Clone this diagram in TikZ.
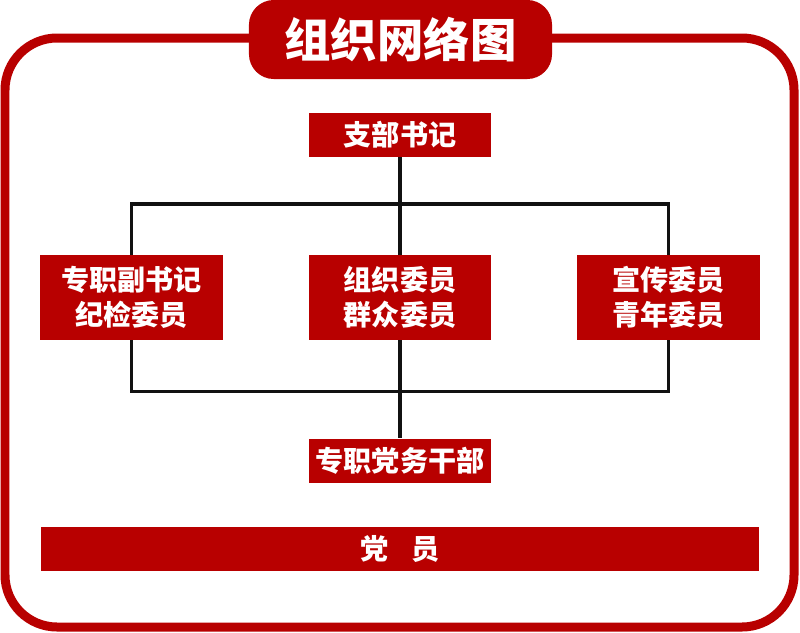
\documentclass[tikz,border=0pt]{standalone}
\usepackage{fontspec}
\setmainfont{Noto Sans CJK SC}
\usetikzlibrary{positioning,backgrounds}
\definecolor{PartyRed}{HTML}{B80000}
\definecolor{Ink}{HTML}{111111}

\begin{document}
\begin{tikzpicture}[x=0.025cm,y=-0.025cm,
  box/.style={rectangle,fill=PartyRed,text=white,inner sep=0pt,align=center,
    minimum width=4.55cm,font=\bfseries\fontsize{20}{25}\selectfont},
  onebox/.style={box,minimum height=1.1cm},
  twobox/.style={box,minimum height=2.125cm},
  link/.style={draw=Ink,line width=2.5pt}]
\useasboundingbox (0,0) rectangle (800,632);
% outer frame and title
\draw[PartyRed,line width=6.4pt,rounded corners=1.3cm] (5,38) rectangle (794,627);
\node[fill=PartyRed,text=white,rounded corners=0.62cm,minimum width=7.575cm,minimum height=1.975cm,
  font=\bfseries\fontsize{33}{36}\selectfont] (title) at (400.5,39.5) {组织网络图};
% boxes
\node[onebox] (sec) at (400,135) {支部书记};
\node[twobox] (deputy) at (131.5,297.5) {专职副书记\\纪检委员};
\node[twobox] (org) at (400,297.5) {组织委员\\群众委员};
\node[twobox] (prop) at (668.5,297.5) {宣传委员\\青年委员};
\node[onebox] (cadre) at (400,460.5) {专职党务干部};
\node[box,minimum width=17.95cm,minimum height=1.1cm] (member) at (400,549) {党\hspace{0.8em}员};
% connectors
\coordinate (tl) at (deputy.center |- 0,204);
\coordinate (tr) at (prop.center |- 0,204);
\coordinate (bl) at (deputy.center |- 0,391.5);
\coordinate (br) at (prop.center |- 0,391.5);
\begin{scope}[on background layer]
\draw[link] (sec.south) -- (cadre.north);
\draw[link] (tl) -- (tr) -- (br) -- (bl) -- cycle;
\end{scope}
\end{tikzpicture}
\end{document}
